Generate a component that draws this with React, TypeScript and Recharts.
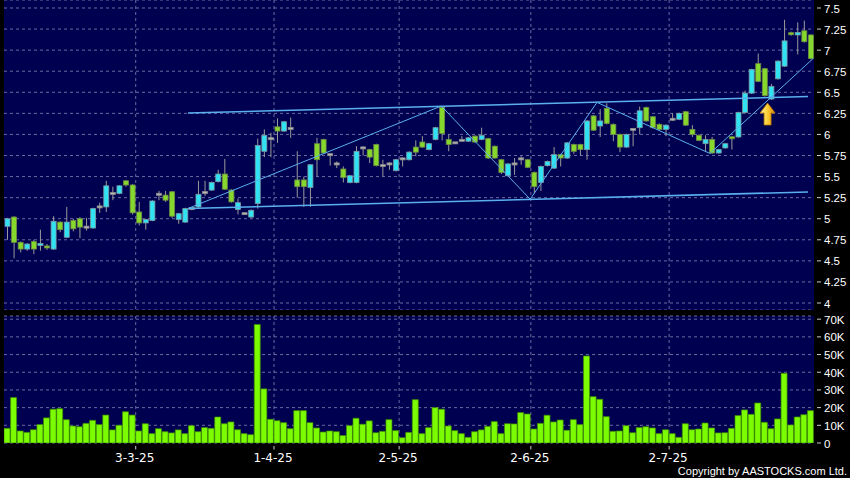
import { ComposedChart, Bar, XAxis, YAxis, CartesianGrid, ReferenceLine, ReferenceDot } from 'recharts';

// daily candles, 3 Feb 2025 .. 31 Jul 2025 (123 trading days)
const opens = [
  4.91, 5.02, 4.72, 4.64, 4.73, 4.69, 4.67, 4.64, 4.96, 4.78,
  4.98, 5.0, 4.9, 4.89, 5.14, 5.14, 5.3, 5.3, 5.45, 5.4,
  5.08, 4.95, 4.98, 5.29, 5.28, 5.32, 4.99, 4.96, 5.12, 5.14,
  5.31, 5.34, 5.44, 5.53, 5.34, 5.11, 5.06, 5.02, 5.18, 5.8,
  5.95, 6.09, 6.04, 6.07, 5.46, 5.46, 5.37, 5.89, 5.94, 5.76,
  5.65, 5.59, 5.43, 5.43, 5.84, 5.82, 5.88, 5.63, 5.65, 5.57,
  5.71, 5.7, 5.85, 5.91, 5.82, 5.94, 6.32, 5.94, 5.9, 5.93,
  5.92, 5.98, 5.94, 5.95, 5.86, 5.7, 5.51, 5.65, 5.71, 5.7,
  5.55, 5.43, 5.63, 5.6, 5.76, 5.72, 5.88, 5.88, 5.82, 6.22,
  6.1, 6.31, 6.12, 6.0, 5.85, 6.06, 6.08, 6.32, 6.21, 6.12,
  6.06, 6.18, 6.18, 6.27, 6.06, 5.99, 5.89, 5.94, 5.78, 5.84,
  5.97, 5.97, 6.26, 6.49, 6.84, 6.78, 6.42, 6.66, 6.81, 7.2,
  7.18, 7.23, 7.18,
];
const closes = [
  5.0, 4.72, 4.64, 4.7, 4.64, 4.7, 4.66, 4.97, 4.87, 4.96,
  4.88, 4.9, 4.9, 5.12, 5.14, 5.39, 5.3, 5.39, 5.4, 5.07,
  4.95, 4.99, 5.21, 5.29, 5.22, 5.03, 5.06, 5.12, 5.12, 5.29,
  5.31, 5.43, 5.53, 5.35, 5.2, 5.19, 5.06, 5.1, 5.87, 5.99,
  5.95, 6.04, 6.15, 6.07, 5.38, 5.38, 5.64, 5.7, 5.78, 5.76,
  5.65, 5.49, 5.51, 5.8, 5.84, 5.73, 5.63, 5.63, 5.65, 5.7,
  5.71, 5.79, 5.79, 5.85, 5.89, 6.08, 6.01, 5.88, 5.9, 5.93,
  5.96, 5.91, 5.99, 5.72, 5.72, 5.55, 5.65, 5.65, 5.71, 5.61,
  5.38, 5.62, 5.68, 5.76, 5.72, 5.9, 5.8, 5.82, 6.16, 6.05,
  6.16, 6.13, 6.0, 5.85, 6.0, 6.06, 6.28, 6.16, 6.08, 6.06,
  6.11, 6.18, 6.25, 6.11, 6.0, 5.93, 5.94, 5.78, 5.82, 5.89,
  5.95, 6.26, 6.49, 6.77, 6.63, 6.46, 6.57, 6.87, 7.11, 7.19,
  7.21, 7.1, 6.9,
];
const highs = [
  5.01, 5.03, 4.73, 4.71, 4.75, 4.87, 4.7, 5.03, 4.97, 5.14,
  5.0, 5.02, 5.01, 5.13, 5.19, 5.45, 5.38, 5.4, 5.46, 5.41,
  5.2, 5.0, 5.22, 5.33, 5.33, 5.33, 5.07, 5.13, 5.14, 5.45,
  5.45, 5.44, 5.58, 5.71, 5.35, 5.24, 5.07, 5.11, 5.95, 6.06,
  6.02, 6.19, 6.16, 6.2, 5.8, 5.5, 5.65, 5.96, 5.95, 5.77,
  5.68, 5.62, 5.52, 5.86, 5.86, 5.83, 5.89, 5.7, 5.67, 5.71,
  5.73, 5.8, 5.93, 5.98, 5.9, 6.09, 6.33, 6.0, 5.91, 5.98,
  5.97, 5.99, 6.08, 5.96, 5.87, 5.71, 5.66, 5.72, 5.74, 5.71,
  5.56, 5.63, 5.69, 5.85, 5.77, 5.91, 5.89, 5.89, 6.17, 6.23,
  6.3, 6.37, 6.13, 6.01, 6.01, 6.07, 6.33, 6.33, 6.22, 6.13,
  6.12, 6.25, 6.26, 6.28, 6.11, 6.0, 5.99, 5.97, 5.83, 5.9,
  5.98, 6.27, 6.52, 6.78, 6.96, 6.79, 6.6, 6.88, 7.36, 7.22,
  7.33, 7.35, 7.19,
];
const lows = [
  4.75, 4.53, 4.6, 4.62, 4.58, 4.62, 4.63, 4.63, 4.84, 4.77,
  4.85, 4.77, 4.86, 4.88, 5.07, 5.08, 5.22, 5.29, 5.38, 5.05,
  4.92, 4.87, 4.97, 5.22, 5.2, 5.01, 4.94, 4.95, 5.1, 5.13,
  5.27, 5.33, 5.43, 5.34, 5.19, 5.05, 5.05, 5.01, 5.12, 5.73,
  5.73, 5.9, 6.03, 5.96, 5.25, 5.14, 5.14, 5.5, 5.77, 5.63,
  5.6, 5.43, 5.42, 5.42, 5.75, 5.66, 5.62, 5.5, 5.58, 5.56,
  5.62, 5.69, 5.74, 5.84, 5.81, 5.93, 5.93, 5.8, 5.89, 5.92,
  5.91, 5.9, 5.93, 5.71, 5.71, 5.53, 5.5, 5.52, 5.64, 5.6,
  5.3, 5.33, 5.62, 5.59, 5.62, 5.71, 5.77, 5.75, 5.7, 6.04,
  5.97, 6.12, 5.92, 5.79, 5.84, 5.86, 6.0, 6.15, 6.07, 6.05,
  5.98, 6.16, 6.17, 6.1, 5.97, 5.92, 5.8, 5.77, 5.77, 5.83,
  5.82, 5.96, 6.25, 6.48, 6.62, 6.45, 6.41, 6.65, 6.8, 7.17,
  6.95, 7.09, 6.89,
];
const volumes = [
  8300, 25700, 6800, 6000, 7500, 10400, 14200, 19100, 19400, 13200,
  9600, 9200, 11100, 12800, 10400, 15800, 7400, 10000, 17700, 15800,
  6800, 10900, 5300, 8100, 6400, 5700, 7400, 5300, 9800, 6400,
  8700, 8300, 14700, 10900, 11900, 7500, 5300, 4700, 67000, 30600,
  13400, 12600, 11500, 8100, 18300, 18300, 11500, 8500, 6200, 6800,
  6400, 4200, 9800, 14000, 10600, 12500, 5800, 6600, 13200, 7000,
  3000, 6000, 24500, 5300, 8700, 20000, 19100, 9600, 7000, 5300,
  3200, 6400, 7400, 9400, 12100, 5300, 10900, 10800, 17200, 16400,
  7900, 11100, 15700, 11900, 13000, 7200, 13200, 10400, 49200, 26200,
  24700, 14900, 6600, 6800, 9800, 5800, 8700, 9200, 8500, 5300,
  7500, 5300, 3200, 10900, 7500, 7900, 11300, 8500, 5700, 5800,
  8300, 15500, 18700, 16200, 22600, 11700, 8100, 13600, 39400, 10200,
  14700, 16000, 18300,
];

const dateTicks = [19.5, 40.5, 59.5, 79.5, 100.5];
const dateLabels = ['3-3-25', '1-4-25', '2-5-25', '2-6-25', '2-7-25'];
const priceTicks = [4, 4.25, 4.5, 4.75, 5, 5.25, 5.5, 5.75, 6, 6.25, 6.5, 6.75, 7, 7.25, 7.5];
const volumeTicks = [0, 10000, 20000, 30000, 40000, 50000, 60000, 70000];

// hand drawn study lines (day index, price)
const channel = [
  [{ x: 27.44, y: 6.254 }, { x: 121.6, y: 6.45 }],
  [{ x: 27.44, y: 5.121 }, { x: 121.6, y: 5.317 }],
];
const zigzag = [
  { x: 27.44, y: 5.121 },
  { x: 65.9, y: 6.337 },
  { x: 79.4, y: 5.232 },
  { x: 89.55, y: 6.38 },
  { x: 106.7, y: 5.774 },
  { x: 122.4, y: 6.903 },
];
const arrowAt = { x: 115.45, y: 6.373 };

const data = opens.map((o, i) => ({
  idx: i,
  open: o,
  close: closes[i],
  high: highs[i],
  low: lows[i],
  range: [lows[i], highs[i]],
  volume: volumes[i],
}));

const NAVY = '#000050';
const GRID = '#6a6aa0';
const LINE = '#5ab0ee';
const X_DOMAIN: [number, number] = [-0.5, 122.5];

const vGrid = (p: any) => {
  const { offset, xAxis } = p;
  if (xAxis && typeof xAxis.scale === 'function') return dateTicks.map((t) => xAxis.scale(t));
  return dateTicks.map((t) => offset.left + ((t - X_DOMAIN[0]) / (X_DOMAIN[1] - X_DOMAIN[0])) * offset.width);
};

const Candle = (props: any) => {
  const { x, y, width, height, payload } = props;
  if (!payload) return null;
  const { open, close, high, low } = payload;
  const top = Math.min(y, y + height);
  const h = Math.abs(height);
  const span = high - low;
  const py = (v: number) => (span > 0 ? top + ((high - v) / span) * h : top);
  const cx = x + width / 2;
  const yo = py(open);
  const yc = py(close);
  let bodyTop = Math.min(yo, yc);
  let bodyH = Math.abs(yo - yc);
  if (bodyH < 2) {
    bodyTop -= (2 - bodyH) / 2;
    bodyH = 2;
  }
  const fill = close > open ? '#30e2f2' : close < open ? '#86d82c' : '#b8b8b8';
  const edge = close > open ? '#7c9aa2' : close < open ? '#6e8c44' : '#8a8a8a';
  return (
    <g>
      <line x1={cx} x2={cx} y1={top} y2={top + h} stroke="#9a9a9a" strokeWidth={1} />
      <rect x={cx - 2.5} y={bodyTop} width={5} height={bodyH} fill={fill} stroke={edge} strokeWidth={0.8} />
    </g>
  );
};

const RightTick = (props: any) => {
  const { y, payload, fmt } = props;
  return (
    <g>
      <line x1={817} x2={821} y1={y} y2={y} stroke="#cccccc" />
      <text x={824} y={y} dy={4.5} fill="#ffffff" fontSize={11.5} fontFamily="'Liberation Sans', Arial, sans-serif">
        {fmt(payload.value)}
      </text>
    </g>
  );
};

const DateTick = (props: any) => {
  const { x, payload } = props;
  const k = dateTicks.indexOf(payload.value);
  return (
    <g>
      <line x1={x} x2={x} y1={136} y2={139.5} stroke="#cccccc" />
      <text x={x - 1} y={152} textAnchor="middle" fill="#ffffff" fontSize={12} fontFamily="'DejaVu Sans', sans-serif">
        {k >= 0 ? dateLabels[k] : ''}
      </text>
    </g>
  );
};

const Arrow = (props: any) => {
  const { cx, cy } = props;
  if (cx == null || cy == null) return null;
  const d = `M ${cx} ${cy} L ${cx + 7.5} ${cy + 10} L ${cx + 3.5} ${cy + 10} L ${cx + 3.5} ${cy + 22} L ${cx - 3.5} ${cy + 22} L ${cx - 3.5} ${cy + 10} L ${cx - 7.5} ${cy + 10} Z`;
  return (
    <g>
      <defs>
        <linearGradient id="arrowGold" x1="0" y1="0" x2="1" y2="0">
          <stop offset="0%" stopColor="#fff2a0" />
          <stop offset="45%" stopColor="#ffd23a" />
          <stop offset="100%" stopColor="#d98a00" />
        </linearGradient>
      </defs>
      <path d={d} fill="url(#arrowGold)" stroke="#b87400" strokeWidth={0.8} />
    </g>
  );
};

const priceFmt = (v: number) => String(v);
const volFmt = (v: number) => (v === 0 ? '0' : `${v / 1000}K`);

export default function App() {
  return (
    <div style={{ position: 'fixed', left: 0, top: 0, width: 850, height: 478, background: '#000000', overflow: 'hidden' }}>
      <div style={{ position: 'absolute', left: 0, top: 0 }}>
        <ComposedChart width={850} height={310} data={data} margin={{ top: 0, right: 0, bottom: 0, left: 4 }}>
          <CartesianGrid fill={NAVY} stroke={GRID} strokeDasharray="3 3" verticalCoordinatesGenerator={vGrid} />
          <XAxis dataKey="idx" type="number" domain={X_DOMAIN} allowDataOverflow hide />
          <YAxis
            orientation="right"
            width={36}
            domain={[3.917, 7.595]}
            allowDataOverflow
            ticks={priceTicks}
            interval={0}
            axisLine={false}
            tickLine={false}
            tick={(p: any) => <RightTick {...p} fmt={priceFmt} />}
          />
          <Bar dataKey="range" barSize={5} shape={<Candle />} isAnimationActive={false} />
          {channel.map((seg, i) => (
            <ReferenceLine key={`c${i}`} segment={seg} stroke={LINE} strokeWidth={1.6} ifOverflow="visible" />
          ))}
          {zigzag.slice(1).map((pt, i) => (
            <ReferenceLine key={`z${i}`} segment={[zigzag[i], pt]} stroke={LINE} strokeWidth={1} ifOverflow="visible" />
          ))}
          <ReferenceDot x={arrowAt.x} y={arrowAt.y} r={0} shape={(p: any) => <Arrow {...p} />} ifOverflow="visible" />
        </ComposedChart>
      </div>
      <div style={{ position: 'absolute', left: 0, top: 310 }}>
        <ComposedChart width={850} height={168} data={data} margin={{ top: 6, right: 0, bottom: 0, left: 4 }}>
          <CartesianGrid fill={NAVY} stroke={GRID} strokeDasharray="3 3" verticalCoordinatesGenerator={vGrid} />
          <XAxis
            dataKey="idx"
            type="number"
            domain={X_DOMAIN}
            allowDataOverflow
            ticks={dateTicks}
            interval={0}
            height={35}
            axisLine={false}
            tickLine={false}
            tick={(p: any) => <DateTick {...p} />}
          />
          <YAxis
            orientation="right"
            width={36}
            domain={[0, 71800]}
            allowDataOverflow
            ticks={volumeTicks}
            interval={0}
            axisLine={false}
            tickLine={false}
            tick={(p: any) => <RightTick {...p} fmt={volFmt} />}
          />
          <Bar dataKey="volume" barSize={6} fill="#7cfc00" stroke="#3f8f00" strokeWidth={0.7} isAnimationActive={false} />
        </ComposedChart>
      </div>
      <svg width={850} height={478} style={{ position: 'absolute', left: 0, top: 0, pointerEvents: 'none' }}>
        <text x={847} y={475} textAnchor="end" fill="#ffffff" fontSize={11} fontFamily="'Liberation Sans', Arial, sans-serif">
          Copyright by AASTOCKS.com Ltd.
        </text>
      </svg>
    </div>
  );
}
